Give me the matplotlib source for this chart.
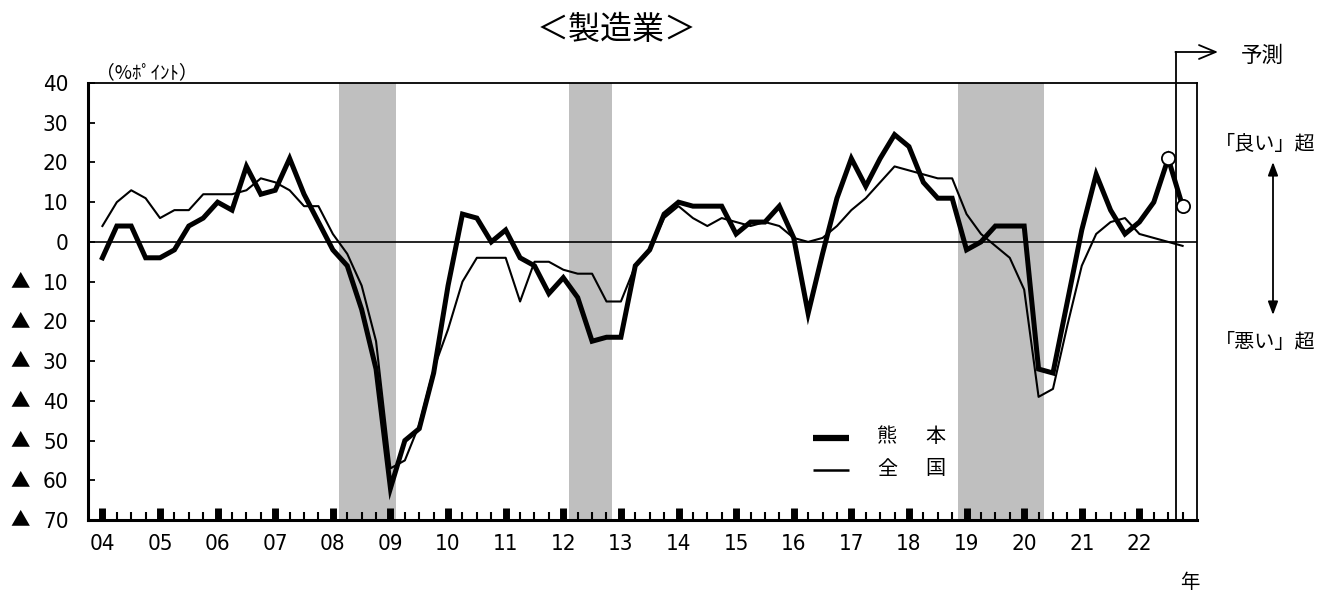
import matplotlib
matplotlib.use("Agg")
import matplotlib.pyplot as plt
from matplotlib.ticker import FixedLocator
import numpy as np

plt.rcParams['font.family'] = ['Noto Sans CJK JP', 'DejaVu Sans']

# ---- data (quarterly, 2004Q1 .. 2022Q4) ----
year_labels = ["04", "05", "06", "07", "08", "09", "10", "11", "12", "13",
               "14", "15", "16", "17", "18", "19", "20", "21", "22"]
kumamoto = [-4, 4, 4, -4, -4, -2, 4, 6, 10, 8, 19, 12, 13, 21, 12, 5,
            -2, -6, -17, -32, -62, -50, -47, -33, -11, 7, 6, 0, 3, -4, -6, -13,
            -9, -14, -25, -24, -24, -6, -2, 7, 10, 9, 9, 9, 2, 5, 5, 9,
            1, -18, -3, 11, 21, 14, 21, 27, 24, 15, 11, 11, -2, 0, 4, 4,
            4, -32, -33, -15, 3, 17, 8, 2, 5, 10, 21, 9]
zenkoku = [4, 10, 13, 11, 6, 8, 8, 12, 12, 12, 13, 16, 15, 13, 9, 9,
           2, -3, -11, -25, -57, -55, -46, -32, -22, -10, -4, -4, -4, -15, -5, -5,
           -7, -8, -8, -15, -15, -6, -2, 6, 9, 6, 4, 6, 5, 4, 5, 4,
           1, 0, 1, 4, 8, 11, 15, 19, 18, 17, 16, 16, 7, 2, -1, -4,
           -12, -39, -37, -21, -6, 2, 5, 6, 2, 1, 0, -1]
recessions = [(16.45, 20.4), (32.4, 35.4), (59.4, 65.4)]
circle_idx = [74, 75]
yticks = [40, 30, 20, 10, 0, -10, -20, -30, -40, -50, -60, -70]

x = np.arange(len(kumamoto))

fig = plt.figure(figsize=(13.33, 5.93), dpi=100)
ax = fig.add_axes([88/1333, 1-520/593, (1197-88)/1333, (520-83)/593])

for a, b in recessions:
    ax.axvspan(a, b, color='#BFBFBF', lw=0, zorder=0)

ax.axhline(0, color='black', lw=1.2, zorder=1)
ax.plot(x, zenkoku, color='black', lw=1.5, zorder=3)
ax.plot(x, kumamoto, color='black', lw=3.6, zorder=4, solid_joinstyle='miter')
ax.plot(x[circle_idx], np.array(kumamoto)[circle_idx], 'o', ms=9.5,
        mfc='white', mec='black', mew=1.3, zorder=5)

ax.set_xlim(-1, 76)
ax.set_ylim(-70, 40)

for s in ['left', 'bottom']:
    ax.spines[s].set_linewidth(2.2)
for s in ['top', 'right']:
    ax.spines[s].set_linewidth(1.3)

num_kw = dict(fontsize=16, family=['DejaVu Sans', 'Noto Sans CJK JP'], fontstretch='condensed')

ax.yaxis.set_major_locator(FixedLocator(yticks))
ax.set_yticklabels([str(abs(v)) for v in yticks], **num_kw)
ax.tick_params(axis='y', direction='in', length=5, width=1.3, pad=14)

major_pos = [4*i for i in range(len(year_labels))]
ax.xaxis.set_major_locator(FixedLocator(major_pos))
ax.xaxis.set_minor_locator(FixedLocator([i for i in range(76) if i % 4 != 0]))
ax.set_xticklabels(year_labels, **num_kw)
ax.tick_params(axis='x', which='major', direction='in', length=9, width=5, pad=10)
ax.tick_params(axis='x', which='minor', direction='in', length=6, width=1.5)
ax.tick_params(axis='both', top=False, right=False)

# triangles for negative values
for v in yticks:
    if v < 0:
        yf = 1 - (520 - (v + 70) * (437/110)) / 593
        fig.text(20/1333, yf, "▲", fontsize=14, ha='center', va='center')

# legend (manual)
ax.plot([0.654, 0.686], [0.188, 0.188], transform=ax.transAxes, color='black', lw=4.5, solid_capstyle='butt')
ax.plot([0.654, 0.686], [0.115, 0.115], transform=ax.transAxes, color='black', lw=1.8, solid_capstyle='butt')
fig.text(887/1333, 1-437/593, "熊", fontsize=14.5, ha='center', va='center')
fig.text(935/1333, 1-437/593, "本", fontsize=14.5, ha='center', va='center')
fig.text(887/1333, 1-469/593, "全", fontsize=14.5, ha='center', va='center')
fig.text(935/1333, 1-469/593, "国", fontsize=14.5, ha='center', va='center')

# title and labels
fig.text(617/1333, 1-30/593, "＜製造業＞", fontsize=23, ha='center', va='center')
fig.text(96/1333, 1-73/593, "（%ﾎﾟｲﾝﾄ）", fontsize=13.5, ha='left', va='center')
fig.text(1190/1333, 1-583/593, "年", fontsize=14, ha='center', va='center')

# forecast marker
fig.add_artist(plt.Line2D([1176/1333, 1176/1333], [1-52/593, 1-520/593], color='black', lw=1.3))
ax.annotate("", xy=(1218/1333, 1-52/593), xytext=(1175.4/1333, 1-52/593),
            xycoords='figure fraction', textcoords='figure fraction',
            arrowprops=dict(arrowstyle='->,head_length=1.2,head_width=0.5', color='black', lw=1.3,
                            shrinkA=0, shrinkB=0))
fig.text(1262/1333, 1-56/593, "予測", fontsize=15.5, ha='center', va='center')

fig.text(1265/1333, 1-144/593, "「良い」超", fontsize=14.5, ha='center', va='center')
fig.text(1265/1333, 1-342/593, "「悪い」超", fontsize=14.5, ha='center', va='center')
ax.annotate("", xy=(1273/1333, 1-162/593), xytext=(1273/1333, 1-315/593),
            xycoords='figure fraction', textcoords='figure fraction',
            arrowprops=dict(arrowstyle='<|-|>,head_length=0.8,head_width=0.3', color='black', lw=1.3,
                            shrinkA=0, shrinkB=0))

fig.savefig("out.png", dpi=100)
